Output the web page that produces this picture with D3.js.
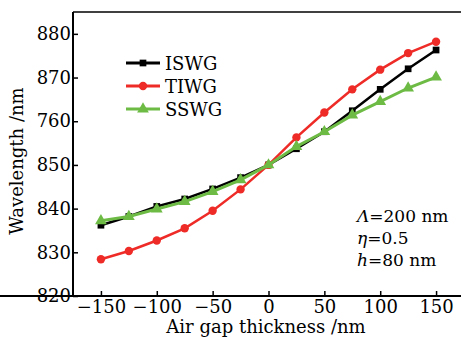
<!DOCTYPE html>
<html lang="en">
<head>
    <meta charset="UTF-8">
    <title>Wavelength vs air gap thickness</title>
    <script src="https://d3js.org/d3.v7.min.js"></script>
    <style>
        body { margin: 0; overflow: hidden; background: #fff; }
        svg { display: block; }
        text { font-family: "DejaVu Serif", serif; fill: #000; }
    </style>
</head>
<body>
    <script>
    // data
    const gaps = [-150, -125, -100, -75, -50, -25, 0, 25, 50, 75, 100, 125, 150];
    const iswg = [836.2, 838.2, 840.5, 842.2, 844.5, 847.1, 850, 853.7, 857.6, 862.4, 867.3, 872.0, 876.3];
    const tiwg = [828.4, 830.3, 832.7, 835.5, 839.5, 844.4, 850, 856.3, 862.0, 867.3, 871.8, 875.6, 878.2];
    const sswg = [837.2, 838.2, 839.9, 841.6, 843.9, 846.6, 850, 854.2, 857.6, 861.4, 864.5, 867.6, 870.1];
    const xTicks = [-150, -100, -50, 0, 50, 100, 150];
    const yTicks = [820, 830, 840, 850, 860, 870, 880];
    const yTickLabels = ["820", "830", "840", "850", "760", "870", "880"];
    const notes = [["Λ", "=200 nm"], ["η", "=0.5"], ["h", "=80 nm"]];

    const width = 461, height = 340;
    const svg = d3.select("body").append("svg")
      .attr("width", width)
      .attr("height", height);

    const x = d3.scaleLinear().domain([-175, 175]).range([73, 464]);
    const y = d3.scaleLinear().domain([820, 885]).range([296, 12]);

    // top frame line
    svg.append("line")
      .attr("x1", 73).attr("x2", width)
      .attr("y1", 12).attr("y2", 12)
      .attr("stroke", "#000").attr("stroke-width", 1.5);

    const xAxis = svg.append("g")
      .attr("transform", `translate(0,${y(820)})`)
      .call(d3.axisBottom(x).tickValues(xTicks).tickSizeInner(-5).tickSizeOuter(0)
        .tickFormat(d => d < 0 ? "\u2212" + Math.abs(d) : d));
    xAxis.select(".domain").attr("stroke-width", 2).attr("d", `M0,0H${width}`);
    xAxis.selectAll(".tick line").attr("stroke-width", 1.5);
    xAxis.selectAll(".tick text").attr("font-size", 18).attr("dy", "0.8em");

    const yAxis = svg.append("g")
      .attr("transform", `translate(${x(-175)},0)`)
      .call(d3.axisLeft(y).tickValues(yTicks).tickSizeInner(-5).tickSizeOuter(0)
        .tickFormat((d, i) => yTickLabels[i]));
    yAxis.select(".domain").attr("stroke-width", 2).attr("d", `M0,${y(820)}V12`);
    yAxis.selectAll(".tick line").attr("stroke-width", 1.5);
    yAxis.selectAll(".tick text").attr("font-size", 18).attr("x", -2);

    svg.append("text")
      .attr("x", 266)
      .attr("y", 333)
      .attr("text-anchor", "middle")
      .attr("font-size", 18)
      .text("Air gap thickness /nm");

    svg.append("text")
      .attr("transform", "translate(23,161) rotate(-90)")
      .attr("text-anchor", "middle")
      .attr("font-size", 18)
      .text("Wavelength /nm");

    const series = [
      { name: "ISWG", values: iswg, color: "#000000", shape: d3.symbolSquare, size: 45, lw: 2.5 },
      { name: "TIWG", values: tiwg, color: "#ee2b27", shape: d3.symbolCircle, size: 55, lw: 2.5 },
      { name: "SSWG", values: sswg, color: "#6dbb45", shape: d3.symbolTriangle, size: 60, lw: 3 }
    ];

    const line = d3.line().x(d => x(d[0])).y(d => y(d[1]));

    series.forEach(s => {
      const pts = gaps.map((g, i) => [g, s.values[i]]);
      svg.append("path")
        .datum(pts)
        .attr("fill", "none")
        .attr("stroke", s.color)
        .attr("stroke-width", s.lw)
        .attr("d", line);
      svg.append("g")
        .selectAll("path")
        .data(pts)
        .join("path")
        .attr("transform", d => `translate(${x(d[0])},${y(d[1])})`)
        .attr("d", d3.symbol().type(s.shape).size(s.size))
        .attr("fill", s.color);
    });

    // legend
    const legend = svg.append("g");
    series.forEach((s, i) => {
      const ly = 63 + i * 23;
      legend.append("line")
        .attr("x1", 126).attr("x2", 160)
        .attr("y1", ly).attr("y2", ly)
        .attr("stroke", s.color).attr("stroke-width", 3);
      legend.append("path")
        .attr("transform", `translate(143,${ly})`)
        .attr("d", d3.symbol().type(s.shape).size(s.size))
        .attr("fill", s.color);
      legend.append("text")
        .attr("x", 165).attr("y", ly + 6.5)
        .attr("font-size", 18)
        .text(s.name);
    });

    // parameter notes
    notes.forEach((n, i) => {
      const t = svg.append("text")
        .attr("x", 357).attr("y", 222 + i * 22)
        .attr("font-size", 17);
      t.append("tspan").attr("font-style", "italic").text(n[0]);
      t.append("tspan").text(n[1]);
    });
    </script>
</body>
</html>
